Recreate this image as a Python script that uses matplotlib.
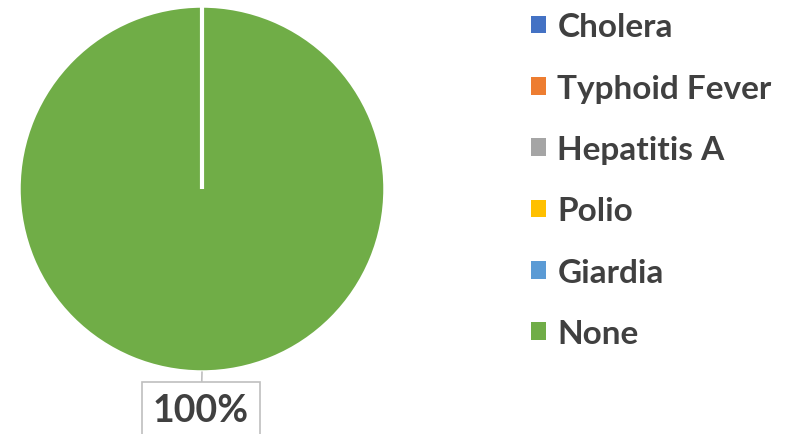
import numpy as np
import matplotlib.pyplot as plt
from matplotlib.patches import Patch

# survey data - everyone answered "None"
diseases = ['Cholera', 'Typhoid Fever', 'Hepatitis A', 'Polio', 'Giardia', 'None']
shares = [0, 0, 0, 0, 0, 100]
colors = ['#4472C4', '#ED7D31', '#A5A5A5', '#FFC000', '#5B9BD5', '#70AD47']

plt.rcParams['font.family'] = ['Lato', 'DejaVu Sans']

fig = plt.figure(figsize=(7.94, 4.35), dpi=100)
ax = fig.add_axes([19/794, 62/435, 366/794, 366/435])

wedges, _ = ax.pie(shares, colors=colors, startangle=90, counterclock=False,
                   radius=1, wedgeprops=dict(edgecolor='white', linewidth=2.5))
# the full wedge has no radial edge, so draw the seam at the start angle
th = np.deg2rad(wedges[-1].theta2)
ax.plot([0, np.cos(th)], [0, np.sin(th)], color='white', lw=3, solid_capstyle='butt')
ax.set_xlim(-1, 1)
ax.set_ylim(-1, 1)
ax.set_aspect('equal')

# data label in a callout box under the pie
txt = f"{shares[-1]:.0f}%"
ax.annotate(txt, xy=(0.0, -1.0), xytext=(-0.005, -1.21),
            ha='center', va='center', fontsize=27, fontweight='bold', color='#404040',
            bbox=dict(boxstyle='square,pad=0.3', fc='white', ec='#BFBFBF', lw=1.2),
            arrowprops=dict(arrowstyle='-', color='#BFBFBF', lw=1.2,
                            shrinkA=0, shrinkB=0),
            annotation_clip=False)

handles = [Patch(facecolor=c, edgecolor='none') for c in colors]
leg = fig.legend(handles, diseases, loc='upper left', bbox_to_anchor=(528/794, 0.977),
                 frameon=False, borderpad=0.1, borderaxespad=0,
                 handlelength=0.45, handleheight=0.45, handletextpad=0.33,
                 labelspacing=0.97,
                 prop=dict(size=24, weight='bold'))
for t in leg.get_texts():
    t.set_color('#404040')

fig.savefig('out.png', dpi=100)
